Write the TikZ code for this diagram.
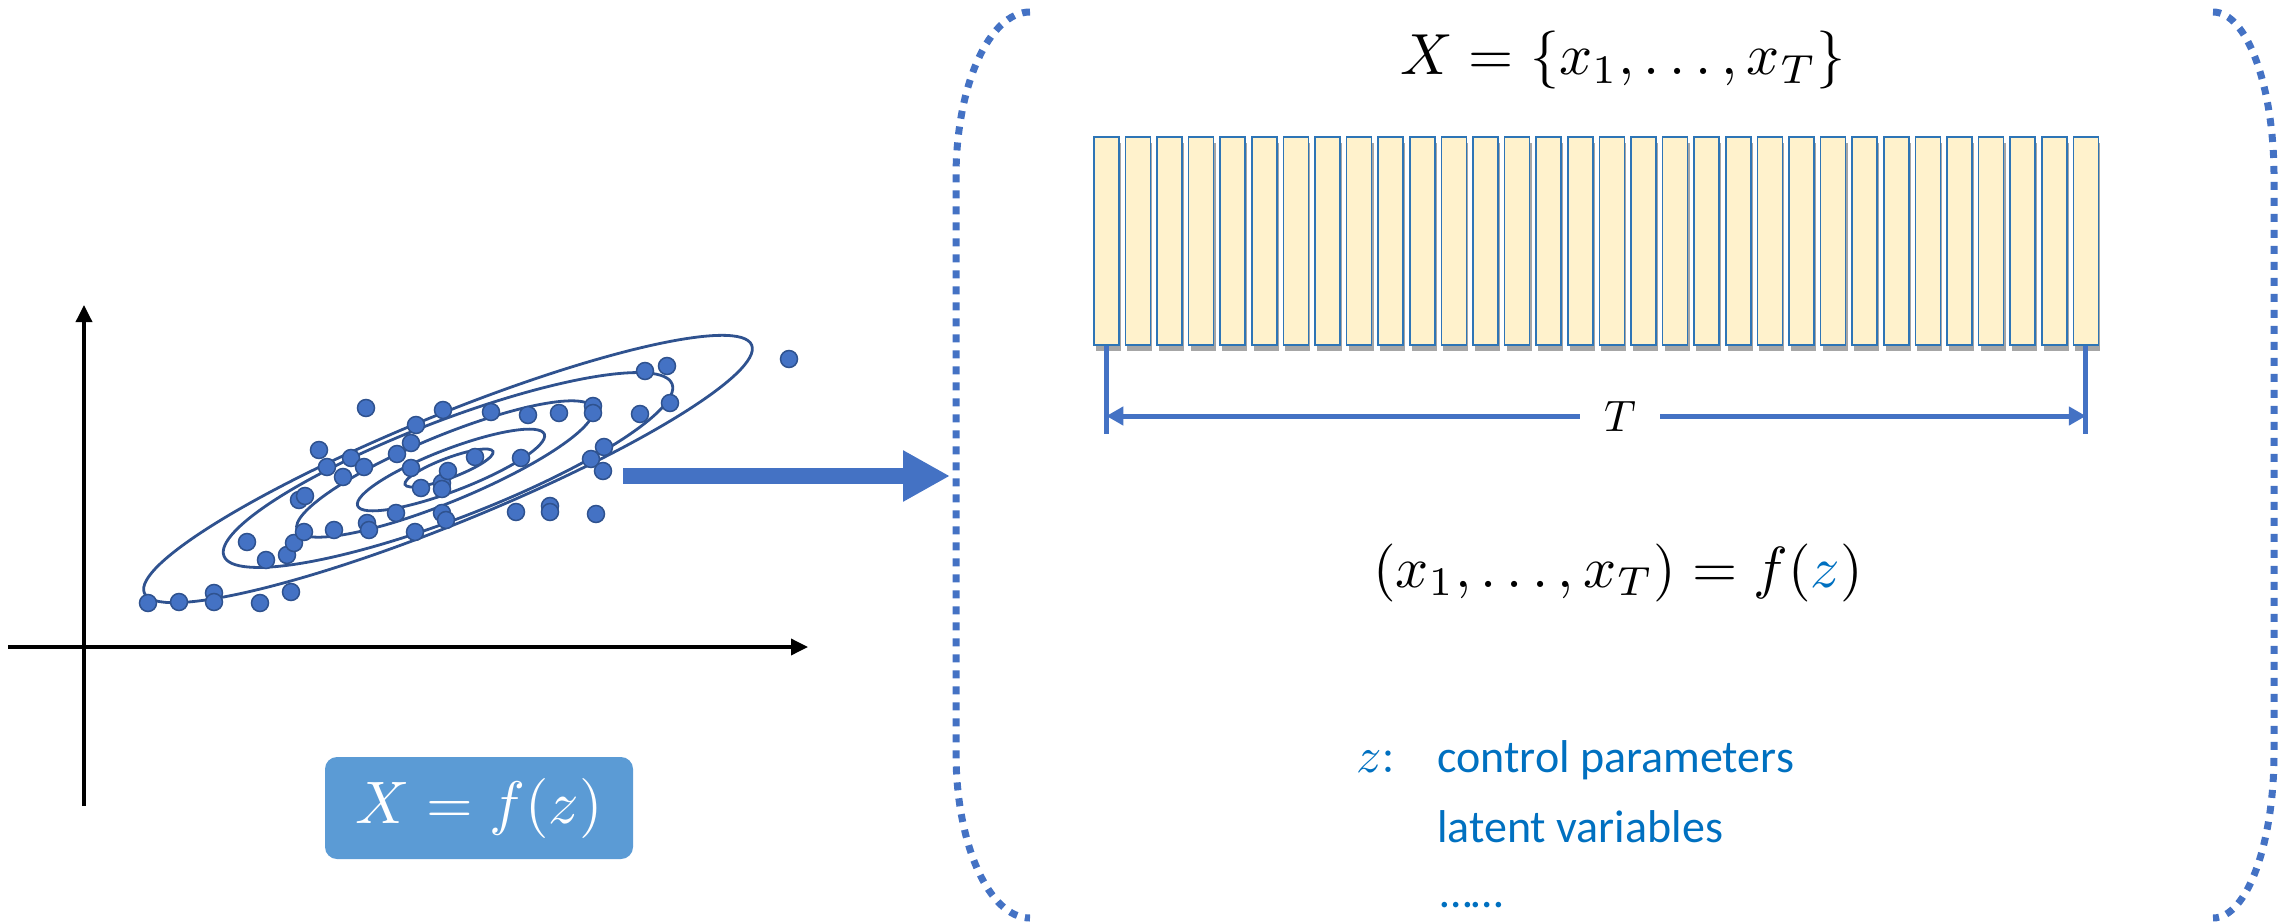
\documentclass[tikz,border=0pt]{standalone}
\usepackage{graphicx}
\usepackage{fontspec}
\newfontfamily\calibri{Carlito}
\usetikzlibrary{arrows.meta,shadows}
\definecolor{dotblue}{HTML}{4472C4}
\definecolor{dotedge}{HTML}{2F528F}
\definecolor{ellcol}{HTML}{2F528F}
\definecolor{boxblue}{HTML}{5B9BD5}
\definecolor{txtblue}{HTML}{0070C0}
\definecolor{barfill}{HTML}{FFF2CC}
\definecolor{baredge}{HTML}{2E75B6}
\newcommand{\mybigmath}[2]{\scalebox{#1}{$#2$}}
\begin{document}
\begin{tikzpicture}[x=1pt,y=1pt,
  sdot/.style={circle,fill=dotblue,draw=dotedge,line width=1.5pt,minimum size=17pt,inner sep=0pt},
  ellline/.style={draw=ellcol,line width=2.8pt},
  axisline/.style={line width=3.5pt,-{Triangle[length=17pt,width=16pt]}},
  barbox/.style={rectangle,fill=barfill,draw=baredge,line width=1.6pt,minimum width=25pt,minimum height=208pt,inner sep=0pt,anchor=north west,drop shadow={shadow xshift=2pt,shadow yshift=-6pt,opacity=0.35,fill=black}},
  dimline/.style={draw=dotblue,line width=5pt},
  dimarrow/.style={dimline,-{Triangle[length=17pt,width=18pt]}},
  bigarrow/.style={draw=dotblue,line width=16pt,-{Triangle[length=47pt,width=48pt]}},
  brk/.style={draw=dotblue,line width=7pt,dash pattern=on 8pt off 8pt},
  mathtxt/.style={inner sep=0pt},
  lbl/.style={font=\calibri\fontsize{46}{54}\selectfont,text=txtblue,inner sep=0pt,anchor=base west},
  fxbox/.style={fill=boxblue,rounded corners=12pt,minimum width=308pt,minimum height=102pt,inner sep=0pt,text=white}
]
\useasboundingbox (0,0) rectangle (2285,-923);

% axes
\coordinate (ya) at (84,-806);
\coordinate (yb) at (84,-305);
\coordinate (xa) at (8,-647);
\coordinate (xb) at (808,-647);
\draw[axisline] (ya) -- (yb);
\draw[axisline] (xa) -- (xb);

% contour ellipses
\draw[ellline,rotate around={22.2:(448,-469)}] (448,-469) ellipse [x radius=328pt,y radius=54pt];
\draw[ellline,rotate around={21:(448,-470)}] (448,-470) ellipse [x radius=240pt,y radius=49pt];
\draw[ellline,rotate around={22.4:(445,-469)}] (445,-469) ellipse [x radius=160pt,y radius=33pt];
\draw[ellline,rotate around={21:(451,-470)}] (451,-470) ellipse [x radius=100pt,y radius=21pt];
\draw[ellline,rotate around={20.6:(449,-468)}] (449,-468) ellipse [x radius=47pt,y radius=10pt];

% data points
\foreach \px/\py [count=\k] in {148/603,179/602,214/593,214/602,260/603,291/592,247/542,266/560,287/555,294/543,304/532,299/500,305/496,334/530,367/523,369/530,396/513,415/532,442/513,446/520,319/450,327/467,343/477,351/458,364/467,366/408,397/454,411/443,416/425,443/410,411/468,421/488,442/483,442/489,448/471,475/457,491/412,521/458,528/415,559/413,593/406,593/413,640/414,645/371,667/366,670/403,604/447,591/459,603/471,516/512,550/506,550/512,596/514,789/359}
  \node[sdot] (d\k) at (\px,-\py) {};

% formula box
\node[fxbox] (fx) at (479,-808) {\mybigmath{6}{X=f(z)}};

% big arrow
\coordinate (a1) at (623,-476);
\coordinate (a2) at (950,-476);
\draw[bigarrow] (a1) -- (a2);

% brackets
\draw[brk] (1030,-12) arc[start angle=90,end angle=180,x radius=74pt,y radius=165pt] -- (956,-753) arc[start angle=180,end angle=270,x radius=74pt,y radius=165pt];
\draw[brk] (2213,-12) arc[start angle=90,end angle=0,x radius=61pt,y radius=165pt] -- (2274,-753) arc[start angle=0,end angle=-90,x radius=61pt,y radius=165pt];

% top formula
\node[mathtxt,anchor=base] (topf) at (1623,-75) {\mybigmath{5.8}{X=\{x_1,\dots,x_T\}}};

% bars
\foreach \i in {0,...,31}
  \node[barbox] (b\i) at ({1093+\i*31.6},-136) {};

% dimension
\coordinate (tl) at ([yshift=-88pt]b0.south);
\coordinate (tr) at ([yshift=-88pt]b31.south);
\draw[dimline] (b0.south) -- (tl);
\draw[dimline] (b31.south) -- (tr);
\node[inner sep=0pt,minimum width=80pt] (T) at (1620,-416) {\mybigmath{4.4}{T}};
\draw[dimarrow] (T.west) -- (T.west -| b0.south);
\draw[dimarrow] (T.east) -- (T.east -| b31.south);

% second formula
\node[mathtxt,anchor=base] (eq) at (1618,-587) {\mybigmath{5.8}{(x_1,\dots,x_T)=f(\textcolor{txtblue}{z})}};

% labels
\node[inner sep=0pt,anchor=base west,text=txtblue] (zl) at (1356,-772) {\mybigmath{5}{z{:}}};
\node[lbl] (l1) at (1437,-772) {control parameters};
\node[lbl] (l2) at (1437,-842) {latent variables};
\node[lbl] (l3) at (1440,-907) {……};
\end{tikzpicture}
\end{document}
